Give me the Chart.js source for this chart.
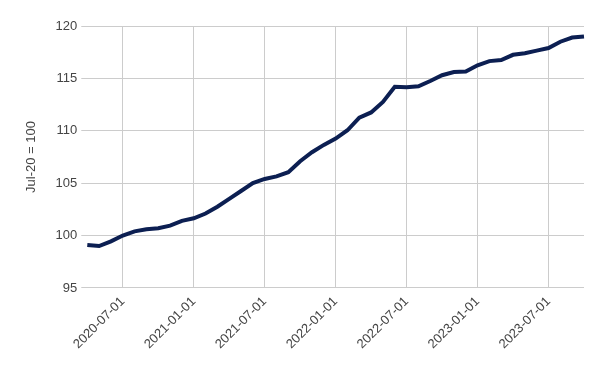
<!DOCTYPE html>
<html>
<head>
<meta charset="utf-8">
<script src="https://cdn.jsdelivr.net/npm/chart.js@4"></script>
<style>
  html, body { margin: 0; padding: 0; background: #fff; }
  #wrap { width: 600px; height: 371px; }
</style>
</head>
<body>
<div id="wrap"><canvas id="lineChart"></canvas></div>
<script>
// monthly dates, Apr 2020 .. Oct 2023
const months = [
  '2020-04-01', '2020-05-01', '2020-06-01', '2020-07-01', '2020-08-01', '2020-09-01',
  '2020-10-01', '2020-11-01', '2020-12-01', '2021-01-01', '2021-02-01', '2021-03-01',
  '2021-04-01', '2021-05-01', '2021-06-01', '2021-07-01', '2021-08-01', '2021-09-01',
  '2021-10-01', '2021-11-01', '2021-12-01', '2022-01-01', '2022-02-01', '2022-03-01',
  '2022-04-01', '2022-05-01', '2022-06-01', '2022-07-01', '2022-08-01', '2022-09-01',
  '2022-10-01', '2022-11-01', '2022-12-01', '2023-01-01', '2023-02-01', '2023-03-01',
  '2023-04-01', '2023-05-01', '2023-06-01', '2023-07-01', '2023-08-01', '2023-09-01',
  '2023-10-01'
];

// index, Jul-20 = 100
const indexValues = [
  99.1, 99.0, 99.45, 100.0, 100.4, 100.6,
  100.7, 100.95, 101.4, 101.65, 102.1, 102.75,
  103.5, 104.25, 105.0, 105.4, 105.65, 106.05,
  107.1, 107.95, 108.65, 109.25, 110.05, 111.25,
  111.75, 112.75, 114.2, 114.15, 114.25, 114.75,
  115.3, 115.6, 115.65, 116.25, 116.65, 116.75,
  117.25, 117.4, 117.65, 117.9, 118.5, 118.9,
  119.0
];

const yTicks = { min: 95, max: 120, step: 5 };
const yTitle = 'Jul-20 = 100';

Chart.defaults.font.family = '"Liberation Sans", Arial, sans-serif';
Chart.defaults.color = '#444';

var ctx = document.getElementById('lineChart').getContext('2d');

var config = {
  type: 'line',
  data: {
    labels: months,
    datasets: [{
      data: indexValues,
      borderColor: '#0c1f52',
      borderWidth: 4,
      pointRadius: 0,
      fill: false,
      tension: 0
    }]
  },
  options: {
    responsive: true,
    maintainAspectRatio: false,
    animation: false,
    layout: { padding: { top: 26, right: 16, bottom: 13, left: 20 } },
    plugins: {
      legend: { display: false },
      tooltip: { enabled: false }
    },
    scales: {
      x: {
        offset: false,
        border: { display: false },
        grid: { color: '#cccccc', drawTicks: false },
        ticks: {
          autoSkip: false,
          maxRotation: 45,
          minRotation: 45,
          padding: 6,
          font: { size: 13 },
          callback: function (val, i) {
            const l = months[i];
            return (l.endsWith('-01-01') || l.endsWith('-07-01')) ? l : null;
          }
        }
      },
      y: {
        min: yTicks.min,
        max: yTicks.max,
        border: { display: false },
        grid: { color: '#cccccc', tickLength: 6 },
        ticks: { stepSize: yTicks.step, padding: 4, font: { size: 13 } },
        title: { display: true, text: yTitle, font: { size: 13 }, padding: { bottom: 12 } }
      }
    }
  }
};

new Chart(ctx, config);
</script>
</body>
</html>
